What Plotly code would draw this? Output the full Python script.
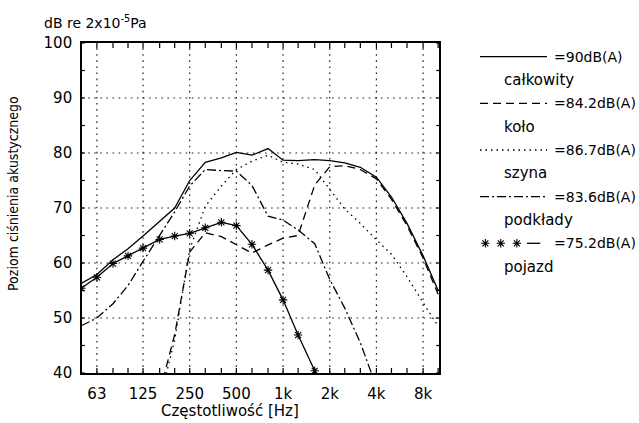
import math
import plotly.graph_objects as go

# ---- data (1/3-octave bands) ----
freq = [50, 63, 80, 100, 125, 160, 200, 250, 315, 400, 500, 630, 800, 1000,
        1250, 1600, 2000, 2500, 3150, 4000, 5000, 6300, 8000, 10000]

calkowity = [56.3, 57.9, 60.6, 62.6, 64.9, 67.5, 70.0, 75.0, 78.3, 79.1, 80.1, 79.6,
             80.8, 78.7, 78.6, 78.8, 78.6, 78.2, 77.4, 75.6, 72.0, 67.2, 61.3, 55.0]
kolo = [None, None, None, None, None, 36.5, 47.0, 62.0, 65.5, 64.8, 63.3, 61.8,
        63.3, 64.5, 65.0, 74.2, 77.5, 77.7, 77.0, 75.3, 71.6, 66.8, 60.9, 54.3]
szyna = [None, None, None, None, None, 35.0, 46.0, 62.5, 70.3, 74.0, 77.0, 78.5,
         79.6, 78.3, 78.0, 77.0, 73.3, 69.8, 67.2, 64.2, 61.6, 57.5, 52.8, 48.5]
podklady = [48.6, 50.0, 52.6, 55.9, 60.3, 65.0, 69.3, 74.0, 77.0, 76.8, 76.7, 74.1,
            68.5, 67.8, 66.0, 63.5, 57.0, 51.8, 45.5, 37.5, None, None, None, None]
pojazd = [55.4, 57.4, 59.9, 61.3, 62.7, 64.3, 64.9, 65.4, 66.4, 67.4, 66.8, 63.4,
          58.7, 53.3, 46.9, 40.4, None, None, None, None, None, None, None, None]

x_tickvals = [63, 125, 250, 500, 1000, 2000, 4000, 8000]
x_ticktext = ["63", "125", "250", "500", "1k", "2k", "4k", "8k"]
y_tickvals = [40, 50, 60, 70, 80, 90, 100]
y_min, y_max = 40, 100
x_min, x_max = 50.5, 10130

legend_levels = ["=90dB(A)", "=84.2dB(A)", "=86.7dB(A)", "=83.6dB(A)", "=75.2dB(A)"]
legend_names = ["całkowity", "koło", "szyna", "podkłady", "pojazd"]

# ---- styles ----
FONT = "DejaVu Sans"
FONT_C = "DejaVu Sans Condensed"
LW = 1.3
styles = [
    dict(color="black", width=LW, dash="solid"),
    dict(color="black", width=LW, dash="8px,5px"),
    dict(color="black", width=LW, dash="1.5px,4px"),
    dict(color="black", width=LW, dash="9px,3px,2px,3px"),
    dict(color="black", width=LW, dash="solid"),
]
star = dict(symbol="asterisk-open", size=7, color="black",
            line=dict(width=1.1, color="black"))

fig = go.Figure()

# ---- dotted grid at the tick values (drawn as traces) ----
grid_line = dict(color="#222", width=1.2, dash="1.6px,4.5px")
gx, gy = [], []
for xv in x_tickvals:
    gx += [xv, xv, None]
    gy += [y_min, y_max, None]
for yv in y_tickvals[1:-1]:
    gx += [x_min, x_max, None]
    gy += [yv, yv, None]
fig.add_trace(go.Scatter(x=gx, y=gy, mode="lines", line=grid_line,
                         showlegend=False, hoverinfo="skip"))

# ---- small inside ticks (1/3-octave along x, 5 dB along y) ----
tick_len_y = 0.9     # dB
tick_len_x = 0.018   # decades
tx, ty = [], []
for f in freq:
    tx += [f, f, None, f, f, None]
    ty += [y_min, y_min + tick_len_y, None, y_max, y_max - tick_len_y, None]
for v in range(y_min, y_max + 1, 5):
    tx += [x_min, x_min * 10 ** tick_len_x, None, x_max, x_max / 10 ** tick_len_x, None]
    ty += [v, v, None, v, v, None]
fig.add_trace(go.Scatter(x=tx, y=ty, mode="lines", line=dict(color="black", width=1.2),
                         showlegend=False, hoverinfo="skip"))

series = [calkowity, kolo, szyna, podklady, pojazd]
for i, (vals, st) in enumerate(zip(series, styles)):
    fig.add_trace(go.Scatter(
        x=freq, y=vals, mode="lines+markers" if i == 4 else "lines",
        line=st, marker=star if i == 4 else None,
        connectgaps=False, showlegend=False, hoverinfo="skip"))

# ---- layout geometry (pixels) ----
W, H = 639, 423
L, R, T, B = 82, 2, 43, 50
PW = W - L - R
PH = H - T - B
plot_right = 439


def px(xp):
    return (xp - L) / PW


def py(yp):
    return (H - B - yp) / PH


# ---- custom legend on hidden axes ----
row_y = [56.7, 103.3, 150.0, 196.7, 243.3]
name_y = [80.0, 126.7, 173.3, 220.0, 266.7]
for i, st in enumerate(styles):
    if i < 4:
        fig.add_trace(go.Scatter(x=[0, 1], y=[row_y[i], row_y[i]], mode="lines",
                                 line=st, xaxis="x2", yaxis="y2",
                                 showlegend=False, hoverinfo="skip"))
    else:
        fig.add_trace(go.Scatter(x=[0.08, 0.31, 0.55], y=[row_y[i]] * 3, mode="markers",
                                 marker=star, xaxis="x2", yaxis="y2",
                                 showlegend=False, hoverinfo="skip"))
        fig.add_trace(go.Scatter(x=[0.70, 0.90], y=[row_y[i]] * 2, mode="lines",
                                 line=st, xaxis="x2", yaxis="y2",
                                 showlegend=False, hoverinfo="skip"))

annotations = []
for i in range(5):
    annotations.append(dict(x=px(552), y=py(row_y[i]), xref="paper", yref="paper",
                            text=legend_levels[i], showarrow=False, xanchor="left",
                            yanchor="middle", font=dict(family=FONT, size=14, color="black")))
    annotations.append(dict(x=px(502), y=py(name_y[i]), xref="paper", yref="paper",
                            text=legend_names[i], showarrow=False, xanchor="left",
                            yanchor="middle", font=dict(family=FONT, size=15, color="black")))

annotations.append(dict(x=px(42), y=py(22), xref="paper", yref="paper",
                        text="dB re 2x10<sup>-5</sup>Pa", showarrow=False,
                        xanchor="left", yanchor="middle",
                        font=dict(family=FONT, size=14, color="black")))
annotations.append(dict(x=px(229.5), y=py(411), xref="paper", yref="paper",
                        text="Częstotliwość [Hz]", showarrow=False,
                        xanchor="center", yanchor="middle",
                        font=dict(family=FONT, size=15, color="black")))
annotations.append(dict(x=px(13), y=py(194), xref="paper", yref="paper",
                        text="Poziom ciśnienia akustycznego", showarrow=False,
                        textangle=-90, xanchor="center", yanchor="middle",
                        font=dict(family=FONT_C, size=14, color="black")))

fig.update_layout(
    width=W, height=H,
    margin=dict(l=L, r=R, t=T, b=B, pad=0),
    paper_bgcolor="white", plot_bgcolor="white",
    font=dict(family=FONT, size=14, color="black"),
    xaxis=dict(type="log", domain=[0, (plot_right - L) / PW],
               range=[math.log10(x_min), math.log10(x_max)],
               tickmode="array", tickvals=x_tickvals, ticktext=x_ticktext,
               ticks="", showline=True, linecolor="black", linewidth=1.6,
               mirror=True, zeroline=False, showgrid=False, ticklabelstandoff=6,
               tickfont=dict(family=FONT, size=15, color="black")),
    yaxis=dict(range=[y_min, y_max], tickmode="array", tickvals=y_tickvals,
               ticks="", showline=True, linecolor="black", linewidth=1.6,
               mirror=True, zeroline=False, showgrid=False, ticklabelstandoff=5,
               tickfont=dict(family=FONT, size=15, color="black")),
    xaxis2=dict(domain=[px(480), px(547)], range=[0, 1], visible=False,
                anchor="y2", fixedrange=True),
    yaxis2=dict(domain=[0, 1], range=[H - B, T], visible=False,
                anchor="x2", fixedrange=True),
    annotations=annotations,
)

fig.write_html("out.html", config={"displayModeBar": False},
               post_script="document.body.style.margin='0';")
